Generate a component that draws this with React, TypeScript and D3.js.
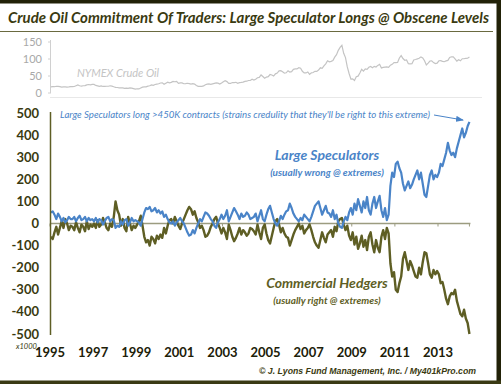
import React from "react";
import * as d3 from "d3";

// monthly values, Jan 1995 - Jun 2014 (thousand contracts)
const speculators = [
  50, 55, 40, 20, 45, 30, 10, 25, 5, 15, 30, 20,
  20, 30, 10, 25, 35, 15, 20, 30, 10, 25, 15, 20,
  10, 25, 5, 20, 15, -5, 10, 25, 30, 10, 20, 15,
  -20, -10, -15, 10, -5, 15, 20, -10, 5, 25, 10, 15,
  10, 5, -10, 20, 50, 70, 65, 75, 55, 60, 70, 50,
  60, 45, 55, 30, 40, 20, 5, 0, 10, -10, 5, 15,
  25, 10, 0, -20, -40, -55, -50, -30, -45, -20, 0, 20,
  10, 30, 50, 45, 35, 20, 10, -10, -20, 5, 20, 40,
  20, 35, 60, 10, 30, 50, 70, 55, 40, 20, 45, 30,
  35, 50, 40, 20, 25, 30, 45, 10, 35, 60, 20, 10,
  40, 65, 80, 50, 20, 0, -10, 10, 35, 20, 40, 55,
  60, 90, 70, 45, 30, 20, 10, 25, 15, 40, 30, 20,
  10, 30, 55, 80, 90, 100, 70, 40, 60, 80, 50, 45,
  30, 60, 20, 40, 0, -15, -20, 10, 30, 15, 50, 70,
  40, 90, 60, 110, 80, 50, 100, 70, 120, 60, 40, 90,
  120, 70, 100, 125, 60, 30, 70, 15, 40, 170, 230, 210,
  270, 280, 250, 230, 180, 150, 170, 190, 160, 175, 200, 220,
  240, 200, 230, 180, 130, 120, 170, 220, 240, 200, 220, 210,
  230, 270, 260, 290, 320, 365, 330, 310, 320, 300, 340, 370,
  400, 430, 390, 410, 440, 460,
];

const hedgers = [
  -60, -70, -40, -15, -50, -20, 10, -20, 20, 0, -30, -10,
  -15, -30, 5, -20, -40, -5, -15, -35, 10, -25, -5, -15,
  0, -20, 15, -15, -5, 25, 5, -20, -30, 0, -15, 30,
  100, 60, 40, -10, 20, -20, -35, 30, 0, -30, -10, -20,
  -5, 10, 35, -10, -60, -85, -75, -100, -60, -70, -90, -55,
  -70, -50, -65, -20, -45, -10, 15, 20, 0, 30, 10, -10,
  -25, 0, 20, 40, 60, 75, 65, 40, 55, 25, 5, -20,
  -10, -30, -60, -55, -40, -15, 0, 20, 30, 0, -20, -45,
  -20, -40, -70, -5, -30, -60, -80, -65, -45, -20, -50, -30,
  -40, -55, -45, -20, -25, -35, -50, -5, -40, -70, -20, -5,
  -45, -75, -90, -55, -20, 10, 20, -5, -40, -20, -45, -60,
  -65, -100, -75, -50, -30, -15, 0, -25, -10, -45, -30, -20,
  -5, -30, -60, -85, -100, -110, -75, -40, -65, -85, -50, -40,
  -30, -60, -15, -35, 10, 20, 25, -5, -30, -10, -55, -75,
  -40, -95, -60, -115, -90, -55, -105, -75, -120, -60, -40, -95,
  -130, -75, -110, -130, -60, -30, -70, -20, -45, -180, -240, -220,
  -300, -310, -270, -240, -160, -130, -170, -210, -170, -190, -215, -240,
  -245, -200, -230, -175, -130, -135, -180, -230, -245, -210, -230, -215,
  -230, -270, -265, -300, -340, -365, -330, -315, -320, -300, -350, -380,
  -410, -420, -390, -430, -450, -500,
];

// NYMEX crude, monthly average ($)
const crude = [
  18.0, 18.6, 18.5, 19.9, 19.7, 18.5, 17.3, 18.0, 18.2, 17.4, 18.0, 19.0,
  18.9, 19.1, 21.3, 23.5, 21.2, 20.4, 21.3, 21.9, 23.9, 24.9, 23.7, 25.2,
  25.1, 22.2, 20.9, 19.7, 20.8, 19.2, 19.6, 19.9, 19.8, 21.3, 20.2, 18.3,
  16.7, 16.1, 15.0, 15.4, 14.9, 13.7, 14.1, 13.4, 15.0, 14.4, 12.9, 11.3,
  12.5, 12.0, 14.7, 17.3, 17.8, 17.9, 20.1, 21.3, 23.9, 22.6, 25.0, 26.1,
  27.2, 29.4, 29.9, 25.7, 28.8, 31.8, 29.7, 31.2, 33.9, 33.1, 34.4, 28.5,
  29.6, 29.6, 27.2, 27.4, 28.6, 27.6, 26.4, 27.4, 26.2, 22.2, 19.6, 19.3,
  19.7, 20.7, 24.4, 26.2, 27.0, 25.5, 27.0, 28.4, 29.7, 28.9, 26.3, 29.4,
  32.9, 35.9, 33.5, 28.3, 28.1, 30.7, 30.8, 31.6, 28.3, 30.3, 31.1, 32.2,
  34.3, 34.7, 36.7, 36.7, 40.3, 38.0, 40.7, 44.9, 45.9, 53.1, 48.5, 43.3,
  46.8, 48.0, 54.3, 53.0, 49.8, 56.3, 58.7, 65.0, 65.6, 62.4, 58.3, 59.4,
  65.5, 61.6, 62.9, 69.7, 70.9, 70.9, 74.4, 73.0, 63.8, 58.9, 59.1, 62.0,
  54.5, 59.3, 60.4, 63.9, 63.5, 67.5, 74.1, 72.4, 79.9, 85.8, 94.8, 91.7,
  93.0, 95.4, 105.5, 112.6, 125.4, 133.9, 140.0, 116.7, 104.1, 76.6, 57.3, 41.1,
  41.7, 37.0, 47.9, 49.6, 59.0, 69.6, 64.2, 71.0, 69.4, 75.7, 78.0, 74.5,
  78.3, 76.4, 81.2, 84.3, 73.7, 75.3, 76.3, 76.6, 75.2, 81.9, 84.3, 89.2,
  89.4, 89.6, 102.9, 110.0, 101.3, 96.3, 97.3, 86.3, 85.5, 86.3, 97.2, 98.6,
  100.3, 102.2, 106.2, 103.3, 94.7, 82.3, 87.9, 94.1, 94.5, 89.5, 86.5, 87.9,
  94.8, 95.3, 92.9, 92.0, 94.5, 95.8, 104.6, 106.6, 106.3, 100.5, 93.9, 97.6,
  94.6, 100.8, 100.8, 102.1, 102.2, 105.8,
];

const yearTicks = [1995, 1997, 1999, 2001, 2003, 2005, 2007, 2009, 2011, 2013];
const cotTicks = [500, 400, 300, 200, 100, 0, -100, -200, -300, -400, -500];
const crudeTicks = [150, 100, 50, 0];

const W = 501;
const H = 384;
const BLUE = "#4a84c8";
const OLIVE = "#5e5e24";
const DARK = "#3a3a10";
const FONT = "Lato, 'Open Sans', sans-serif";

const App = () => {
  const x = d3.scaleLinear().domain([1995, 2013]).range([50, 438]);
  const y = d3.scaleLinear().domain([-500, 500]).range([334, 113]);
  const yc = d3.scaleLinear().domain([0, 150]).range([93, 42]);

  // mid-month position in years
  const t = (i: number) => 1995 + (i + 0.5) / 12;

  const cotLine = d3
    .line<number>()
    .x((d, i) => x(t(i)))
    .y((d) => y(d));
  const crudeLine = d3
    .line<number>()
    .x((d, i) => x(t(i)))
    .y((d) => yc(d));

  const endX = x(t(speculators.length - 1));

  return (
    <svg
      width={W}
      height={H}
      style={{ position: "absolute", left: 0, top: 0, background: "#fff" }}
      fontFamily={FONT}
    >
      <defs>
        <marker id="arr" markerWidth="8" markerHeight="6" refX="7" refY="3" orient="auto">
          <path d="M0,0 L8,3 L0,6 Z" fill={BLUE} />
        </marker>
      </defs>

      {/* frame */}
      <rect x={0} y={0} width={498} height={3.5} fill="#222208" />
      <rect x={496.5} y={0} width={4.5} height={H} fill="#222208" />
      <rect x={0} y={380.5} width={W} height={3.5} fill="#3a3a14" />

      {/* title */}
      <text
        x={8}
        y={23}
        fontSize={15}
        fontWeight="bold"
        fontStyle="italic"
        fill={DARK}
        textLength={481}
        lengthAdjust="spacingAndGlyphs"
      >
        Crude Oil Commitment Of Traders: Large Speculator Longs @ Obscene Levels
      </text>
      <line x1={0} x2={493} y1={31.5} y2={31.5} stroke="#6a6a40" strokeWidth={1} />

      {/* crude oil panel */}
      <line x1={50.5} x2={50.5} y1={40} y2={93} stroke="#d0d0d0" />
      {crudeTicks.map((v) => (
        <g key={v}>
          <line x1={48} x2={51} y1={yc(v)} y2={yc(v)} stroke="#d0d0d0" />
          <text x={42} y={yc(v) + 4} fontSize={11} fill="#a8a8a8" textAnchor="end">
            {v}
          </text>
        </g>
      ))}
      <line x1={50} x2={482} y1={97.5} y2={97.5} stroke="#e8e8e8" />
      <path d={crudeLine(crude) || ""} fill="none" stroke="#c4c4c4" strokeWidth={1.2} />
      <text x={77} y={77} fontSize={11} fontStyle="italic" fill="#c4c4c4">
        NYMEX Crude Oil
      </text>

      {/* main COT panel */}
      <line x1={50} x2={endX + 1} y1={y(0)} y2={y(0)} stroke="#9c9c80" strokeWidth={1.5} />
      {yearTicks.map((yr) => (
        <line key={yr} x1={x(yr)} x2={x(yr)} y1={y(0)} y2={y(0) + 3} stroke="#9c9c80" />
      ))}
      <line x1={endX} x2={endX} y1={y(0)} y2={y(0) + 3} stroke="#9c9c80" />

      <path d={cotLine(hedgers) || ""} fill="none" stroke={OLIVE} strokeWidth={2.4} strokeLinejoin="round" />
      <path d={cotLine(speculators) || ""} fill="none" stroke={BLUE} strokeWidth={2.2} strokeLinejoin="round" />

      <line x1={50.5} x2={50.5} y1={112} y2={335} stroke={OLIVE} strokeWidth={1.5} />
      {cotTicks.map((v) => (
        <text
          key={v}
          x={39}
          y={y(v) + 4.5}
          fontSize={13}
          fontWeight="bold"
          fill={DARK}
          textAnchor="end"
        >
          {v}
        </text>
      ))}
      <text x={16} y={349} fontSize={7.5} fontStyle="italic" fill={DARK}>
        x1000
      </text>
      {yearTicks.map((yr) => (
        <text
          key={yr}
          x={x(yr)}
          y={357}
          fontSize={13}
          fontWeight="bold"
          fill="#202008"
          textAnchor="middle"
        >
          {yr}
        </text>
      ))}

      {/* annotations */}
      <text
        x={60}
        y={118}
        fontSize={9.5}
        fontStyle="italic"
        fill={BLUE}
        textLength={370}
        lengthAdjust="spacingAndGlyphs"
      >
        Large Speculators long &gt;450K contracts (strains credulity that they'll be right to this extreme)
      </text>
      <line x1={434} y1={115} x2={463} y2={120} stroke={BLUE} strokeWidth={1} markerEnd="url(#arr)" />

      <text x={327} y={160} fontSize={14} fontWeight="bold" fontStyle="italic" fill={BLUE} textAnchor="middle">
        Large Speculators
      </text>
      <text x={327} y={176} fontSize={10} fontWeight="bold" fontStyle="italic" fill={BLUE} textAnchor="middle">
        (usually wrong @ extremes)
      </text>
      <text x={327} y={288} fontSize={14} fontWeight="bold" fontStyle="italic" fill={OLIVE} textAnchor="middle">
        Commercial Hedgers
      </text>
      <text x={327} y={304} fontSize={10} fontWeight="bold" fontStyle="italic" fill={OLIVE} textAnchor="middle">
        (usually right @ extremes)
      </text>

      {/* footer */}
      <text
        x={259}
        y={374}
        fontFamily="'Liberation Sans', Arial, sans-serif"
        fontSize={9.5}
        fontWeight="bold"
        fontStyle="italic"
        fill={DARK}
        textLength={217}
        lengthAdjust="spacingAndGlyphs"
      >
        © J. Lyons Fund Management, Inc. / My401kPro.com
      </text>
    </svg>
  );
};

export default App;
